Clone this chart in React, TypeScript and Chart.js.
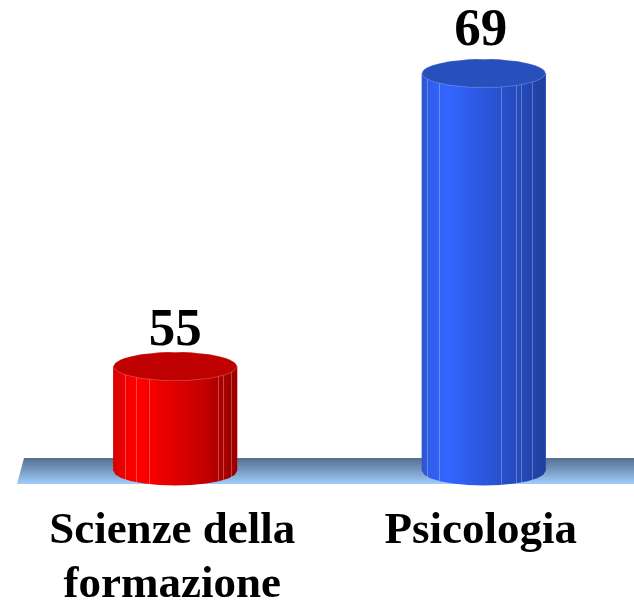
import React, { useEffect, useRef } from "react";
import { Chart, registerables } from "chart.js";

Chart.register(...registerables);

const categories: string[][] = [["Scienze della", "formazione"], ["Psicologia"]];
const values: number[] = [55, 69];
const barColors = ["#e00000", "#2a55d8"];
const capColors = ["#bf0000", "#2850bd"];
const bodyStops: [number, string][][] = [
  [[0, "#d40000"], [0.09, "#f00000"], [0.2, "#ff0000"], [0.3, "#f60000"], [0.5, "#e00000"], [0.7, "#c80000"], [0.84, "#b00000"], [1, "#980000"]],
  [[0, "#2c56d0"], [0.09, "#3060f0"], [0.2, "#3366ff"], [0.35, "#2f5ef0"], [0.55, "#2a55d8"], [0.7, "#264dc4"], [0.85, "#2347b2"], [1, "#1f3f9c"]],
];
const facetLines: number[][] = [
  [0.09, 0.18, 0.29, 0.85, 0.89, 0.95],
  [0.04, 0.14, 0.64, 0.76, 0.8, 0.89],
];
const labelShiftX = [0, -3];
const labelGap = [21, 28];

const BAR_WIDTH = 123.5;
const RY = 14.5;
const SERIF = '"Liberation Serif", serif';

function ellipsePoints(cx: number, cy: number, rx: number, ry: number, from: number, to: number, steps: number) {
  const pts: [number, number][] = [];
  for (let i = 0; i <= steps; i++) {
    const a = from + ((to - from) * i) / steps;
    pts.push([cx + rx * Math.cos(a), cy + ry * Math.sin(a)]);
  }
  return pts;
}

function bodyGradient(ctx: CanvasRenderingContext2D, cx: number, i: number) {
  const g = ctx.createLinearGradient(cx - BAR_WIDTH / 2, 0, cx + BAR_WIDTH / 2, 0);
  bodyStops[i].forEach(([o, c]) => g.addColorStop(o, c));
  return g;
}

const floorPlugin = {
  id: "floor",
  beforeDatasetsDraw(chart: any) {
    const { ctx } = chart;
    const base = chart.scales.y.getPixelForValue(50);
    const top = base - 13;
    const bottom = base + 13;
    const g = ctx.createLinearGradient(0, top, 0, bottom);
    g.addColorStop(0, "#54708f");
    g.addColorStop(0.5, "#7a9cc4");
    g.addColorStop(1, "#9fcdfa");
    ctx.save();
    ctx.fillStyle = g;
    ctx.beginPath();
    ctx.moveTo(24, top);
    ctx.lineTo(chart.width, top);
    ctx.lineTo(chart.width, bottom);
    ctx.lineTo(17, bottom);
    ctx.closePath();
    ctx.fill();
    ctx.restore();
  },
};

const cylinderPlugin = {
  id: "cylinder",
  afterDatasetsDraw(chart: any) {
    const { ctx } = chart;
    const meta = chart.getDatasetMeta(0);
    meta.data.forEach((bar: any, i: number) => {
      const cx = bar.x;
      const rx = BAR_WIDTH / 2;
      const topY = bar.y;
      const baseY = bar.base;
      ctx.save();
      // gradient body and rounded foot of the cylinder
      const foot = ellipsePoints(cx, baseY, rx, RY, 0, Math.PI, 12);
      ctx.fillStyle = bodyGradient(ctx, cx, i);
      ctx.beginPath();
      ctx.moveTo(cx - rx, topY);
      ctx.lineTo(cx + rx, topY);
      foot.forEach(([x, y]) => ctx.lineTo(x, y));
      ctx.closePath();
      ctx.fill();
      // light facet lines
      ctx.strokeStyle = "rgba(255,255,255,0.28)";
      ctx.lineWidth = 1;
      facetLines[i].forEach((f) => {
        const x = Math.round(cx - rx + f * BAR_WIDTH) + 0.5;
        const dy = RY * Math.sqrt(Math.max(0, 1 - ((x - cx) / rx) ** 2));
        ctx.beginPath();
        ctx.moveTo(x, topY + dy);
        ctx.lineTo(x, baseY + dy);
        ctx.stroke();
      });
      // top cap with slightly scalloped facets
      const steps = 16;
      const cap = ellipsePoints(cx, topY, rx, RY - 0.4, 0, Math.PI * 2, steps);
      const mids = ellipsePoints(cx, topY, rx * 1.015, RY + 0.6, Math.PI / steps, Math.PI * 2 + Math.PI / steps, steps);
      ctx.fillStyle = capColors[i];
      ctx.strokeStyle = "rgba(255,255,255,0.22)";
      ctx.beginPath();
      ctx.moveTo(cap[0][0], cap[0][1]);
      for (let k = 1; k < cap.length; k++) {
        ctx.quadraticCurveTo(mids[k - 1][0], mids[k - 1][1], cap[k][0], cap[k][1]);
      }
      ctx.closePath();
      ctx.fill();
      ctx.stroke();
      // value label
      ctx.fillStyle = "#000";
      ctx.font = `bold 53px ${SERIF}`;
      ctx.textAlign = "center";
      ctx.textBaseline = "alphabetic";
      ctx.fillText(String(values[i]), cx + labelShiftX[i], topY - labelGap[i]);
      ctx.restore();
    });
  },
};

export default function App() {
  const ref = useRef<HTMLCanvasElement | null>(null);
  useEffect(() => {
    document.body.style.margin = "0";
    document.body.style.overflow = "hidden";
    const chart = new Chart(ref.current!, {
      type: "bar",
      data: {
        labels: categories,
        datasets: [
          {
            data: values,
            base: 50,
            barThickness: BAR_WIDTH,
            borderWidth: 0,
            backgroundColor: barColors,
          },
        ],
      },
      options: {
        animation: false,
        responsive: false,
        layout: { padding: { left: 21, right: 2, top: 0, bottom: 0 } },
        plugins: { legend: { display: false }, tooltip: { enabled: false } },
        scales: {
          x: {
            grid: { display: false, drawTicks: false },
            border: { display: false },
            afterFit: (s: any) => {
              s.height = 133;
            },
            ticks: {
              color: "#000",
              font: { family: SERIF, size: 45, weight: "bold", lineHeight: 1.2 },
              padding: 33,
              maxRotation: 0,
              autoSkip: false,
              labelOffset: -3,
            },
          },
          y: { display: false, min: 50, max: 72.5 },
        },
      },
      plugins: [floorPlugin, cylinderPlugin],
    } as any);
    return () => chart.destroy();
  }, []);
  return (
    <div style={{ position: "absolute", left: 0, top: 0, width: 634, height: 604, overflow: "hidden" }}>
      <canvas ref={ref} width={640} height={604} style={{ display: "block" }} />
    </div>
  );
}
